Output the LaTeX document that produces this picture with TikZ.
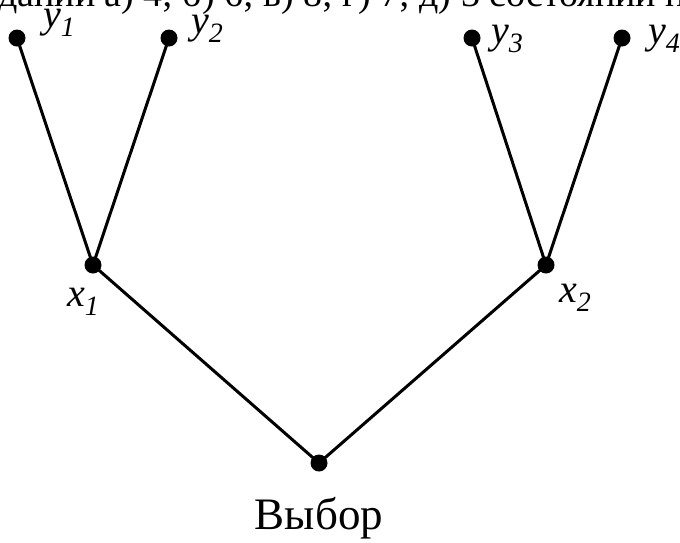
\documentclass[tikz,border=0pt]{standalone}
\usepackage{fontspec}
\setmainfont{Liberation Serif}
\begin{document}
\begin{tikzpicture}[x=1pt,y=-1pt,
  dot/.style={circle,fill=black,inner sep=0pt,minimum size=17pt},
  edge/.style={line width=3pt},
  lbl/.style={font=\fontsize{40}{42}\selectfont\itshape,inner sep=0pt,anchor=base west},
  captext/.style={font=\fontsize{45}{47}\selectfont,inner sep=0pt},
  toptext/.style={font=\fontsize{38}{40}\selectfont,inner sep=0pt,anchor=base west}]
\useasboundingbox (0,0) rectangle (680,542);
\clip (0,0) rectangle (680,542);
\node[toptext] (top) at (-2,6) {дании а) 4; б) 6; в) 8; г) 7; д) 3 состояний пр};
\node[dot] (y1) at (17,38) {};
\node[dot] (y2) at (169,38) {};
\node[dot] (y3) at (472,38) {};
\node[dot] (y4) at (622,38) {};
\node[dot] (x1) at (93,265) {};
\node[dot] (x2) at (546,265) {};
\node[dot] (v) at (319,463) {};
\draw[edge] (y1.center) -- (x1.center) -- (y2.center);
\draw[edge] (y3.center) -- (x2.center) -- (y4.center);
\draw[edge] (x1.center) -- (v.center) -- (x2.center);
\node[lbl] (ly1) at (43,27) {y\textsubscript{1}};
\node[lbl] (ly2) at (191,33) {y\textsubscript{2}};
\node[lbl] (ly3) at (491,43) {y\textsubscript{3}};
\node[lbl] (ly4) at (648,43) {y\textsubscript{4}};
\node[lbl] (lx1) at (67,306) {x\textsubscript{1}};
\node[lbl] (lx2) at (559,302) {x\textsubscript{2}};
\node[captext,anchor=base] (lv) at (319,529) {Выбор};
\end{tikzpicture}
\end{document}
